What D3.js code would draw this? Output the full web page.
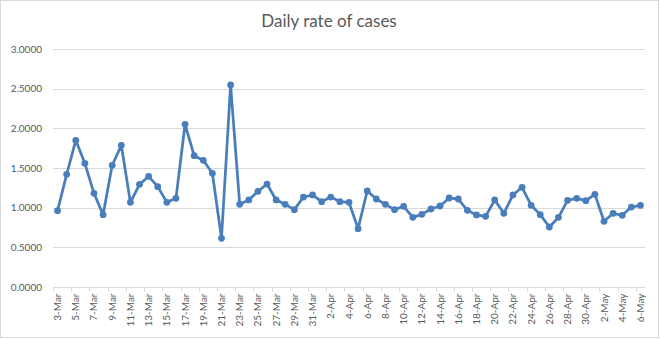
<!DOCTYPE html>
<html><head><meta charset="utf-8">
<script src="https://cdn.jsdelivr.net/npm/d3@7"></script>
<style>body{margin:0;background:#fff}svg{display:block}</style>
</head><body>
<svg id="c" width="660" height="339"></svg>
<script>
const title = "Daily rate of cases";
const dates = (() => { const a = [];
  for (let d = 3; d <= 31; d++) a.push(d + "-Mar");
  for (let d = 1; d <= 30; d++) a.push(d + "-Apr");
  for (let d = 1; d <= 6; d++) a.push(d + "-May");
  return a; })();
const rates = [0.962,1.420,1.849,1.559,1.181,0.912,1.534,1.786,1.067,1.294,
  1.395,1.265,1.067,1.118,2.051,1.655,1.597,1.433,0.614,2.546,
  1.042,1.097,1.206,1.298,1.097,1.042,0.975,1.134,1.160,1.076,
  1.134,1.076,1.067,0.735,1.210,1.109,1.042,0.975,1.017,0.878,
  0.916,0.983,1.021,1.122,1.109,0.967,0.908,0.891,1.097,0.929,
  1.160,1.257,1.030,0.912,0.756,0.878,1.092,1.118,1.088,1.168,
  0.828,0.929,0.904,1.008,1.030];
const yTicks = [0,0.5,1,1.5,2,2.5,3];

(function(){
const svg = d3.select("#c");
const font = "Lato, 'Open Sans', sans-serif";
const pl = 53, pr = 645, pt = 49, pb = 287;

svg.append("rect").attr("x",0.5).attr("y",0.5).attr("width",658).attr("height",337)
  .attr("fill","#fff").attr("stroke","#d9d9d9");

svg.append("text").attr("x",329).attr("y",27).attr("text-anchor","middle")
  .attr("font-family",font).attr("font-size",17).attr("fill","#595959").text(title);

const x = d3.scaleBand().domain(dates).range([pl,pr]);
const y = d3.scaleLinear().domain([0,3]).range([pb,pt]);

svg.append("g").selectAll("line").data(yTicks.filter(t=>t>0)).join("line")
  .attr("x1",pl).attr("x2",pr).attr("y1",d=>Math.round(y(d))+0.5).attr("y2",d=>Math.round(y(d))+0.5)
  .attr("stroke","#d9d9d9").attr("stroke-width",1);

const ya = svg.append("g").attr("transform",`translate(${pl},0)`)
  .call(d3.axisLeft(y).tickValues(yTicks).tickFormat(d3.format(".4f")).tickSize(0).tickPadding(11));
ya.select(".domain").remove();
ya.selectAll("text").attr("font-family",font).attr("font-size",10).attr("fill","#595959");

const ticksX = dates.filter((d,i)=>i%2===0);
const xa = svg.append("g").attr("transform",`translate(0,${Math.round(pb)+0.5})`);
xa.append("line").attr("x1",pl).attr("x2",pr).attr("stroke","#d9d9d9");
xa.selectAll("line.t").data(d3.range(0,dates.length+1,2)).join("line").attr("class","t")
  .attr("x1",i=>Math.round(pl + i*x.step())+0.5).attr("x2",i=>Math.round(pl + i*x.step())+0.5)
  .attr("y1",0).attr("y2",4).attr("stroke","#d9d9d9");
xa.selectAll("text").data(ticksX).join("text")
  .attr("transform",d=>`translate(${x(d)+x.bandwidth()/2+3.5},6) rotate(-90)`)
  .attr("text-anchor","end").attr("font-family",font).attr("font-size",10).attr("fill","#595959")
  .text(d=>d);

const cx = d => x(d)+x.bandwidth()/2;
const pts = dates.map((d,i)=>[cx(d), y(rates[i])]);
svg.append("path").attr("d",d3.line()(pts)).attr("fill","none")
  .attr("stroke","#4a7ebb").attr("stroke-width",2.75).attr("stroke-linejoin","round");
svg.append("g").selectAll("circle").data(pts).join("circle")
  .attr("cx",p=>p[0]).attr("cy",p=>p[1]).attr("r",3.4).attr("fill","#4a7ebb");
})();
</script>
</body></html>
